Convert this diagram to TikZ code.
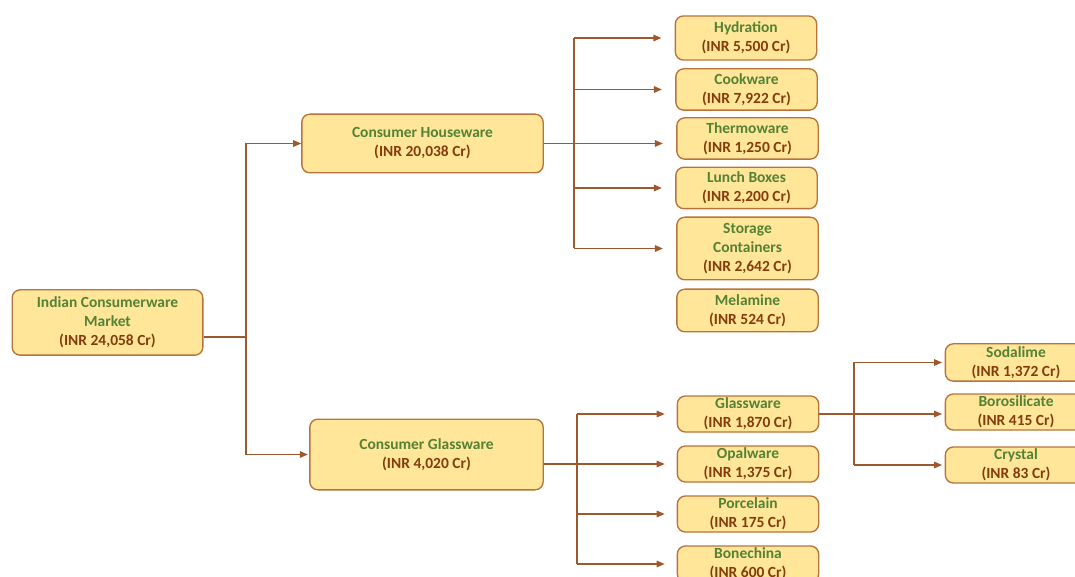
\documentclass[tikz,border=0pt]{standalone}
\usepackage{fontspec}
\setmainfont{Carlito}
\usepackage{xcolor}
\usetikzlibrary{positioning,arrows.meta}
\definecolor{boxfill}{RGB}{255,230,153}
\definecolor{boxline}{RGB}{184,115,60}
\definecolor{linkcol}{RGB}{158,88,45}
\definecolor{titlecol}{RGB}{84,130,53}
\definecolor{valcol}{RGB}{132,60,12}
\newcommand{\inr}[1]{\textcolor{valcol}{(INR #1 Cr)}}
\tikzset{seg/.style={draw=boxline, fill=boxfill, rounded corners=6pt, line width=1pt,
    text=titlecol, align=center, font=\bfseries\fontsize{11.6}{14.2}\selectfont, inner sep=1pt},
  leaf/.style={seg, minimum width=106pt, minimum height=31pt},
  link/.style={draw=linkcol, line width=0.8pt},
  arr/.style={link, -{Triangle[length=6pt,width=5pt]}}}
\begin{document}
\begin{tikzpicture}[x=0.75pt,y=-0.75pt]
	\useasboundingbox (0,0) rectangle (1075,577);

	% market and the two segments
	\node[seg, minimum width=143pt, minimum height=49pt] (root) at (107.5,322.5) {Indian Consumerware\\Market\\\inr{24,058}};
	\node[seg, minimum width=181pt, minimum height=44pt] (CH) at (422.5,143.5) {Consumer Houseware\\\inr{20,038}};
	\node[seg, minimum width=175pt, minimum height=53pt] (CG) at (426.5,454.5) {Consumer Glassware\\\inr{4,020}};

	% houseware
	\node[leaf, minimum height=33pt] (hyd) at (746,38) {Hydration\\\inr{5,500}};
	\node[leaf] (cook) at (746.5,89.5) {Cookware\\\inr{7,922}};
	\node[leaf] (thermo) at (747.5,138.5) {Thermoware\\\inr{1,250}};
	\node[leaf] (lunch) at (746.5,188) {Lunch Boxes\\\inr{2,200}};
	\node[leaf, minimum height=47pt] (storage) at (747.5,248.5) {Storage\\Containers\\\inr{2,642}};
	\node[leaf, minimum height=32pt] (melamine) at (747.5,310.5) {Melamine\\\inr{524}};

	% glassware
	\node[leaf, minimum height=27pt] (glass) at (748,414) {Glassware\\\inr{1,870}};
	\node[leaf, minimum height=27pt] (opal) at (748,464) {Opalware\\\inr{1,375}};
	\node[leaf, minimum height=27pt] (porc) at (748,514) {Porcelain\\\inr{175}};
	\node[leaf, minimum height=27pt] (bone) at (748,564) {Bonechina\\\inr{600}};

	\node[leaf, minimum height=28pt] (soda) at (1016,362.5) {Sodalime\\\inr{1,372}};
	\node[leaf, minimum height=27pt] (boro) at (1016,412) {Borosilicate\\\inr{415}};
	\node[leaf, minimum height=27pt] (crystal) at (1016,465) {Crystal\\\inr{83}};

	% connectors
	\coordinate (rj) at (246,337);
	\draw[link] (root.east |- rj) -- (rj);
	\draw[link] (rj |- CH.west) -- (rj |- CG.west);
	\draw[arr] (rj |- CH.west) -- (CH.west);
	\draw[arr, shorten >=1pt] (rj |- CG.west) -- (CG.west);

	\coordinate (hj) at (574,0);
	\draw[link] (hj |- hyd.west) -- (hj |- storage.west);
	\draw[arr, shorten >=10pt] (CH.east) -- (CH.east -| thermo.west);
	\foreach \n in {hyd,cook,lunch,storage}
		\draw[arr, shorten >=10pt] (hj |- \n.west) -- (\n.west);

	\coordinate (gj) at (577,0);
	\draw[link] (gj |- glass.west) -- (gj |- bone.west);
	\draw[arr, shorten >=9pt] (CG.east |- opal.west) -- (opal.west);
	\foreach \n in {glass,porc,bone}
		\draw[arr, shorten >=9pt] (gj |- \n.west) -- (\n.west);

	\coordinate (sj) at (854,0);
	\draw[link] (sj |- soda.west) -- (sj |- crystal.west);
	\draw[arr, shorten >=2pt] (glass.east) -- (glass.east -| boro.west);
	\foreach \n in {soda,crystal}
		\draw[arr, shorten >=2pt] (sj |- \n.west) -- (\n.west);

\end{tikzpicture}
\end{document}
